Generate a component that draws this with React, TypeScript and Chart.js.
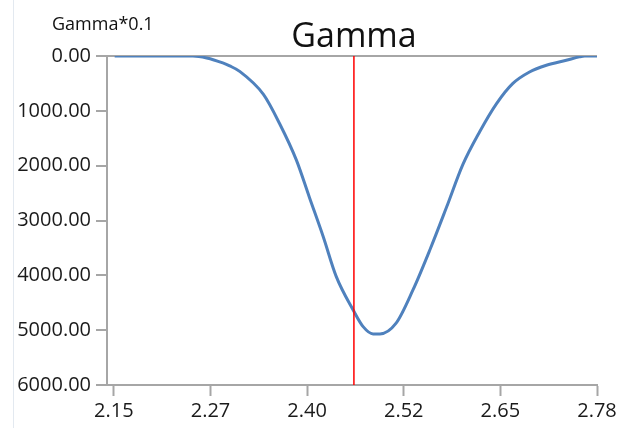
import React, { useEffect, useRef } from "react";
import { Chart, registerables } from "chart.js";

Chart.register(...registerables);

// Gamma profile (scaled by 0.1) sampled along the x axis
const gammaX = [2.151, 2.253, 2.271, 2.292, 2.301, 2.314, 2.345, 2.366, 2.388, 2.405, 2.423, 2.44, 2.462, 2.475, 2.488, 2.497, 2.518, 2.54, 2.562, 2.584, 2.605, 2.627, 2.649, 2.67, 2.692, 2.714, 2.74, 2.757, 2.764, 2.78];
const gammaY = [0, 0, 36, 127, 180, 280, 700, 1231, 1899, 2580, 3296, 4024, 4631, 4935, 5068, 5068, 4873, 4267, 3538, 2750, 1980, 1380, 867, 503, 291, 169, 78, 15, 0, 0];

// Vertical marker position
const markerX = 2.463;

// Axis ranges and tick labels
const xMin = 2.141;
const xMax = 2.78;
const xTickStart = 2.15;
const xTickLabels = ["2.15", "2.27", "2.40", "2.52", "2.65", "2.78"];
const yMin = 0;
const yMax = 6000;
const yStep = 1000;

const titleText = "Gamma";
const unitText = "Gamma*0.1";

const FONT = "'Open Sans', 'Noto Sans', sans-serif";
const AXIS_GREY = "#a6a6a6";

const headerPlugin = {
  id: "header",
  afterDraw(chart: any) {
    const { ctx, chartArea } = chart;
    ctx.save();
    ctx.fillStyle = "#111";
    ctx.textBaseline = "alphabetic";
    ctx.textAlign = "center";
    ctx.font = `34px ${FONT}`;
    ctx.fillText(titleText, (chartArea.left + chartArea.right) / 2 + 2, 47);
    ctx.textAlign = "left";
    ctx.font = `18px ${FONT}`;
    ctx.fillText(unitText, 52, 30);
    ctx.restore();
  },
};

export default function App() {
  const canvasRef = useRef<HTMLCanvasElement | null>(null);

  useEffect(() => {
    document.body.style.margin = "0";
    const canvas = canvasRef.current;
    if (!canvas) return;

    const tickStep = (xMax - xTickStart) / (xTickLabels.length - 1);

    const chart = new Chart(canvas, {
      type: "line",
      data: {
        datasets: [
          {
            label: "marker",
            data: [
              { x: markerX, y: yMin },
              { x: markerX, y: yMax },
            ],
            borderColor: "#ff0000",
            borderWidth: 1.5,
            pointRadius: 0,
            order: 0,
          },
          {
            label: titleText,
            data: gammaX.map((x, i) => ({ x, y: gammaY[i] })),
            borderColor: "#4f81bd",
            borderWidth: 3,
            pointRadius: 0,
            cubicInterpolationMode: "monotone",
            order: 1,
          },
        ],
      },
      options: {
        responsive: false,
        animation: false,
        layout: { padding: { top: 56, right: 24, left: 0, bottom: 0 } },
        plugins: {
          legend: { display: false },
          tooltip: { enabled: false },
          title: { display: false },
        },
        scales: {
          x: {
            type: "linear",
            min: xMin,
            max: xMax,
            afterBuildTicks: (scale: any) => {
              scale.ticks = xTickLabels.map((_, i) => ({ value: xTickStart + i * tickStep }));
            },
            afterFit: (scale: any) => {
              scale.height = 43;
            },
            ticks: {
              autoSkip: false,
              maxRotation: 0,
              padding: 3,
              color: "#1a1a1a",
              font: { family: FONT, size: 20 },
              callback: (_v: any, i: number) => xTickLabels[i],
            },
            grid: {
              drawOnChartArea: false,
              drawTicks: true,
              tickLength: 11,
              tickColor: AXIS_GREY,
              tickWidth: 2,
            },
            border: { display: true, color: AXIS_GREY, width: 2 },
          },
          y: {
            type: "linear",
            reverse: true,
            min: yMin,
            max: yMax,
            afterFit: (scale: any) => {
              scale.width = 107;
            },
            ticks: {
              stepSize: yStep,
              padding: 5,
              color: "#1a1a1a",
              font: { family: FONT, size: 20 },
              callback: (v: any) => Number(v).toFixed(2),
            },
            grid: {
              drawTicks: true,
              tickLength: 11,
              tickColor: AXIS_GREY,
              tickWidth: 2,
              lineWidth: 2,
              color: (c: any) => (c.tick && c.tick.value === yMin ? AXIS_GREY : "rgba(0,0,0,0)"),
            },
            border: { display: true, color: AXIS_GREY, width: 2 },
          },
        },
      },
      plugins: [headerPlugin],
    });

    return () => chart.destroy();
  }, []);

  return (
    <div style={{ position: "relative", width: 621, height: 428, background: "#fff" }}>
      <div style={{ position: "absolute", left: 13, top: 0, width: 1, height: 428, background: "#e3e9f0" }} />
      <canvas ref={canvasRef} width={621} height={428} style={{ position: "absolute", left: 0, top: 0 }} />
    </div>
  );
}
